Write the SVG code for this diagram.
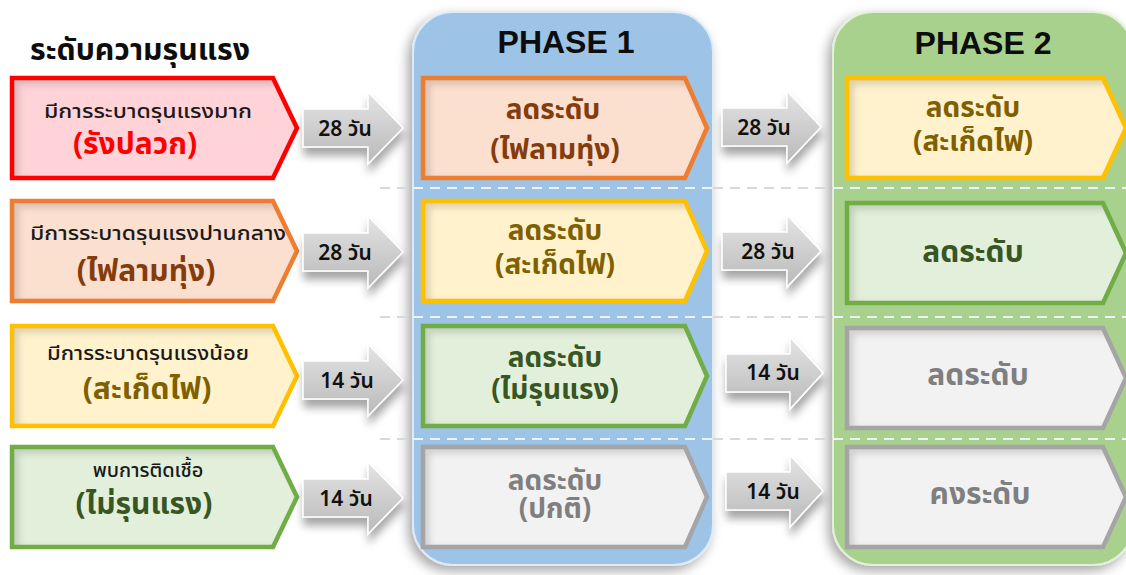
<svg xmlns="http://www.w3.org/2000/svg" width="1126" height="575" viewBox="0 0 1126 575">
  <defs>
    <style>
      .th { font-family: "Noto Sans Thai", "Noto Sans", "DejaVu Sans", sans-serif; text-anchor: middle; }
      .hd { font-family: "Liberation Sans", Arial, sans-serif; font-weight: 700; text-anchor: middle; fill: #0d0d0d; }
      .sub { font-size: 20px; font-weight: 500; fill: #1a1a1a; }
      .big { font-size: 30px; font-weight: 700; }
      .mid { font-size: 28px; font-weight: 700; }
      .one { font-size: 30px; font-weight: 700; }
      .days { font-size: 21px; font-weight: 600; fill: #111; }
      .dash { fill: none; stroke-width: 2; stroke-dasharray: 10 7; }
      .edge { fill: none; stroke-width: 4.5; stroke-linejoin: miter; }
      .red .f { fill: #ffd3d7; } .red .edge { stroke: #ff0000; }
      .org .f { fill: #fbdfcf; } .org .edge { stroke: #ed7d31; }
      .yel .f { fill: #fff2cc; } .yel .edge { stroke: #ffc000; }
      .grn .f { fill: #e2efda; } .grn .edge { stroke: #70ad47; }
      .gry .f { fill: #f2f2f2; } .gry .edge { stroke: #a5a5a5; }
      .t-red { fill: #ff0000; } .t-org { fill: #843c0c; } .t-yel { fill: #7f6000; }
      .t-grn { fill: #375623; } .t-gry { fill: #7f7f7f; }
      .arrow { fill: url(#arrowFill); stroke: #ffffff; stroke-width: 1.5; filter: url(#arrowShadow); }
    </style>
    <linearGradient id="arrowFill" x1="0" y1="0" x2="0" y2="1">
      <stop offset="0" stop-color="#e4e4e4"/>
      <stop offset="1" stop-color="#b9b9b9"/>
    </linearGradient>
    <filter id="panelShadow" x="-10%" y="-10%" width="120%" height="120%">
      <feDropShadow dx="-4" dy="5" stdDeviation="6" flood-color="#000" flood-opacity="0.35"/>
    </filter>
    <filter id="arrowShadow" x="-20%" y="-30%" width="140%" height="170%">
      <feDropShadow dx="1" dy="8" stdDeviation="4" flood-color="#000" flood-opacity="0.35"/>
    </filter>
    <!-- soft inset shading along the top and left inner edges -->
    <filter id="inset" x="0" y="0" width="100%" height="100%">
      <feOffset in="SourceAlpha" dx="7" dy="7" result="o"/>
      <feGaussianBlur in="o" stdDeviation="3" result="b"/>
      <feComposite in="SourceAlpha" in2="b" operator="out" result="ring"/>
      <feFlood flood-color="#000" flood-opacity="0.28"/>
      <feComposite in2="ring" operator="in" result="sh"/>
      <feMerge><feMergeNode in="SourceGraphic"/><feMergeNode in="sh"/></feMerge>
    </filter>
    <!-- pentagon outlines for each column -->
    <path id="penL" d="M12,0 H273 L297,50 L273,100 H12 Z"/>
    <path id="penP1" d="M423,0 H685 L707,50 L685,100 H423 Z"/>
    <path id="penP2" d="M847,0 H1103 L1126,50 L1103,100 H847 Z"/>
  </defs>

  <rect width="1126" height="575" fill="#ffffff"/>

  <!-- phase panels -->
  <g id="phase1-panel">
    <rect x="413" y="12" width="300" height="553" rx="40" fill="#9dc3e6" stroke="#deebf7" stroke-width="2" filter="url(#panelShadow)"/>
    <text class="hd" x="566" y="53" font-size="32">PHASE 1</text>
  </g>
  <g id="phase2-panel">
    <rect x="833" y="12" width="300" height="553" rx="40" fill="#a9d18e" stroke="#e2f0d9" stroke-width="2" filter="url(#panelShadow)"/>
    <text class="hd" x="983" y="54" font-size="32">PHASE 2</text>
  </g>

  <!-- row separators -->
  <g id="separators">
    <path class="dash" stroke="#d9d9d9" d="M380,188 H413 M713,188 H833 M380,317 H413 M713,317 H833 M380,439 H413 M713,439 H833"/>
    <path class="dash" stroke="#eef3f8" d="M413,188 H713 M833,188 H1126 M413,317 H713 M833,317 H1126 M413,439 H713 M833,439 H1126"/>
  </g>

  <!-- heading -->
  <text id="heading" class="th" x="140" y="60" font-size="30" font-weight="700" fill="#0d0d0d" textLength="220" lengthAdjust="spacingAndGlyphs">ระดับความรุนแรง</text>

  <!-- severity column -->
  <g id="sev-high" class="red" transform="translate(0,78)">
    <use href="#penL" class="f" filter="url(#inset)"/>
    <use href="#penL" class="edge"/>
    <text class="th sub" x="148" y="40" textLength="208" lengthAdjust="spacingAndGlyphs">มีการระบาดรุนแรงมาก</text>
    <text class="th big t-red" x="135" y="76">(รังปลวก)</text>
  </g>
  <g id="sev-mid" class="org" transform="translate(0,201)">
    <use href="#penL" class="f" filter="url(#inset)"/>
    <use href="#penL" class="edge"/>
    <text class="th sub" x="158" y="39" textLength="256" lengthAdjust="spacingAndGlyphs">มีการระบาดรุนแรงปานกลาง</text>
    <text class="th big t-org" x="146" y="80">(ไฟลามทุ่ง)</text>
  </g>
  <g id="sev-low" class="yel" transform="translate(0,326)">
    <use href="#penL" class="f" filter="url(#inset)"/>
    <use href="#penL" class="edge"/>
    <text class="th sub" x="148" y="34" textLength="202" lengthAdjust="spacingAndGlyphs">มีการระบาดรุนแรงน้อย</text>
    <text class="th big t-yel" x="147" y="73">(สะเก็ดไฟ)</text>
  </g>
  <g id="sev-mild" class="grn" transform="translate(0,447)">
    <use href="#penL" class="f" filter="url(#inset)"/>
    <use href="#penL" class="edge"/>
    <text class="th sub" x="148" y="30">พบการติดเชื้อ</text>
    <text class="th big t-grn" x="144" y="67">(ไม่รุนแรง)</text>
  </g>

  <!-- phase 1 column -->
  <g id="p1-r1" class="org" transform="translate(0,78)">
    <use href="#penP1" class="f" filter="url(#inset)"/>
    <use href="#penP1" class="edge"/>
    <text class="th mid t-org" x="553" y="41">ลดระดับ</text>
    <text class="th mid t-org" x="555" y="81">(ไฟลามทุ่ง)</text>
  </g>
  <g id="p1-r2" class="yel" transform="translate(0,201)">
    <use href="#penP1" class="f" filter="url(#inset)"/>
    <use href="#penP1" class="edge"/>
    <text class="th mid t-yel" x="555" y="39">ลดระดับ</text>
    <text class="th mid t-yel" x="555" y="73">(สะเก็ดไฟ)</text>
  </g>
  <g id="p1-r3" class="grn" transform="translate(0,326)">
    <use href="#penP1" class="f" filter="url(#inset)"/>
    <use href="#penP1" class="edge"/>
    <text class="th mid t-grn" x="555" y="41">ลดระดับ</text>
    <text class="th mid t-grn" x="555" y="73">(ไม่รุนแรง)</text>
  </g>
  <g id="p1-r4" class="gry" transform="translate(0,447)">
    <use href="#penP1" class="f" filter="url(#inset)"/>
    <use href="#penP1" class="edge"/>
    <text class="th mid t-gry" x="555" y="43">ลดระดับ</text>
    <text class="th mid t-gry" x="555" y="71">(ปกติ)</text>
  </g>

  <!-- phase 2 column -->
  <g id="p2-r1" class="yel" transform="translate(0,78)">
    <use href="#penP2" class="f" filter="url(#inset)"/>
    <use href="#penP2" class="edge"/>
    <text class="th mid t-yel" x="973" y="39">ลดระดับ</text>
    <text class="th mid t-yel" x="973" y="73">(สะเก็ดไฟ)</text>
  </g>
  <g id="p2-r2" class="grn" transform="translate(0,203)">
    <use href="#penP2" class="f" filter="url(#inset)"/>
    <use href="#penP2" class="edge"/>
    <text class="th one t-grn" x="973" y="59">ลดระดับ</text>
  </g>
  <g id="p2-r3" class="gry" transform="translate(0,328)">
    <use href="#penP2" class="f" filter="url(#inset)"/>
    <use href="#penP2" class="edge"/>
    <text class="th one t-gry" x="978" y="57">ลดระดับ</text>
  </g>
  <g id="p2-r4" class="gry" transform="translate(0,447)">
    <use href="#penP2" class="f" filter="url(#inset)"/>
    <use href="#penP2" class="edge"/>
    <text class="th one t-gry" x="980" y="57">คงระดับ</text>
  </g>

  <!-- connectors: duration arrows -->
  <g id="connectors">
    <path class="arrow" d="M303,109 H368 V92 L403,128 L368,164 V147 H303 Z"/>
    <text class="th days" x="345" y="136">28 วัน</text>
    <path class="arrow" d="M303,233 H368 V216 L403,252 L368,288 V271 H303 Z"/>
    <text class="th days" x="345" y="260">28 วัน</text>
    <path class="arrow" d="M303,361 H368 V344 L403,380 L368,416 V399 H303 Z"/>
    <text class="th days" x="347" y="388">14 วัน</text>
    <path class="arrow" d="M303,479 H368 V462 L403,498 L368,534 V517 H303 Z"/>
    <text class="th days" x="346" y="506">14 วัน</text>

    <path class="arrow" d="M722,108 H787 V91 L821,127 L787,163 V146 H722 Z"/>
    <text class="th days" x="764" y="135">28 วัน</text>
    <path class="arrow" d="M722,232 H787 V215 L821,251 L787,287 V270 H722 Z"/>
    <text class="th days" x="768" y="259">28 วัน</text>
    <path class="arrow" d="M726,354 H790 V337 L823,373 L790,409 V392 H726 Z"/>
    <text class="th days" x="773" y="380">14 วัน</text>
    <path class="arrow" d="M726,472 H790 V455 L823,491 L790,527 V510 H726 Z"/>
    <text class="th days" x="773" y="499">14 วัน</text>
  </g>
</svg>
